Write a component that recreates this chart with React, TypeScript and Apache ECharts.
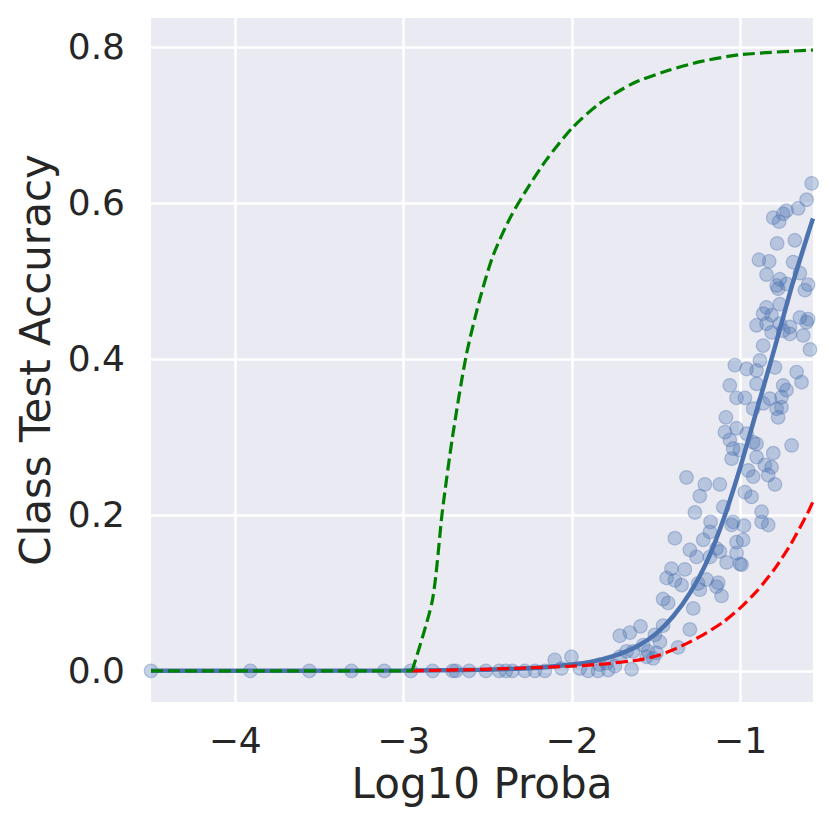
import React, { useEffect, useRef } from "react";
import * as echarts from "echarts";

const xTicks = [-4, -3, -2, -1];
const yTicks = [0, 0.2, 0.4, 0.6, 0.8];

const scatterPoints: [number, number][] = [
  [-4.5, 0], [-3.91, 0], [-3.56, 0], [-3.31, 0], [-3.115, 0], [-2.957, 0], [-2.828, 0],
  [-2.709, 0], [-2.69, 0], [-2.611, 0], [-2.512, 0], [-2.433, 0], [-2.393, 0], [-2.354, 0],
  [-2.281, 0], [-2.221, 0], [-2.162, 0], [-2.103, 0.014], [-2.063, 0.003], [-2.004, 0.018],
  [-1.954, 0.003], [-1.905, 0], [-1.846, 0], [-1.836, 0.008], [-1.796, 0.01], [-1.786, 0.001],
  [-1.746, 0.006], [-1.717, 0.018], [-1.647, 0.002], [-1.677, 0.025], [-1.638, 0.025],
  [-1.578, 0.033], [-1.558, 0.018], [-1.549, 0.025], [-1.519, 0.016], [-1.499, 0.023],
  [-1.479, 0.037], [-1.509, 0.046], [-1.371, 0.03], [-1.717, 0.045], [-1.657, 0.049],
  [-1.594, 0.057], [-1.46, 0.058], [-1.301, 0.053],
  [-1.281, 0.08], [-1.43, 0.087], [-1.46, 0.092], [-1.113, 0.096], [-1.143, 0.108],
  [-1.242, 0.104], [-1.35, 0.11], [-1.133, 0.113], [-1.202, 0.117], [-1.252, 0.112],
  [-1.39, 0.116], [-1.439, 0.119], [-1.331, 0.13], [-1.41, 0.131], [-0.994, 0.136],
  [-1.004, 0.137], [-1.083, 0.139], [-1.182, 0.146], [-1.261, 0.146], [-1.024, 0.151],
  [-1.123, 0.153], [-1.143, 0.157], [-1.301, 0.155], [-0.985, 0.168], [-1.024, 0.165],
  [-1.222, 0.168], [-1.39, 0.17], [-1.182, 0.178], [-0.98, 0.186], [-1.053, 0.187],
  [-1.044, 0.191], [-1.178, 0.191], [-0.836, 0.187], [-0.875, 0.191], [-0.875, 0.204],
  [-1.271, 0.203], [-1.103, 0.21],
  [-0.935, 0.223], [-0.974, 0.229], [-1.242, 0.224], [-0.796, 0.239], [-1.123, 0.239],
  [-1.212, 0.239], [-0.836, 0.251], [-0.925, 0.249], [-1.321, 0.248], [-0.955, 0.257],
  [-0.816, 0.261], [-0.856, 0.264], [-0.806, 0.279], [-0.905, 0.274], [-1.053, 0.272],
  [-0.697, 0.289], [-1.004, 0.283], [-1.044, 0.285], [-0.905, 0.291], [-0.925, 0.293],
  [-1.064, 0.296], [-0.964, 0.304], [-1.093, 0.306], [-1.024, 0.311], [-1.087, 0.325],
  [-0.777, 0.325], [-0.757, 0.338], [-0.786, 0.336], [-0.925, 0.336], [-0.866, 0.343],
  [-0.826, 0.349], [-0.757, 0.351], [-0.974, 0.35], [-1.024, 0.35], [-0.727, 0.36],
  [-0.747, 0.366], [-0.905, 0.368], [-1.064, 0.366], [-0.638, 0.37], [-0.667, 0.383],
  [-0.796, 0.389], [-0.885, 0.398], [-0.905, 0.385], [-0.964, 0.387], [-1.034, 0.392],
  [-0.608, 0.447], [-0.866, 0.417], [-0.588, 0.412], [-0.628, 0.43], [-0.707, 0.432],
  [-0.747, 0.436], [-0.816, 0.434],
  [-0.707, 0.441], [-0.767, 0.445], [-0.846, 0.445], [-0.905, 0.443], [-0.599, 0.451],
  [-0.648, 0.453], [-0.816, 0.456], [-0.866, 0.458], [-0.767, 0.47], [-0.846, 0.466],
  [-0.777, 0.49], [-0.618, 0.488], [-0.599, 0.495], [-0.727, 0.496], [-0.786, 0.494],
  [-0.767, 0.502], [-0.648, 0.51], [-0.846, 0.508], [-0.688, 0.524], [-0.83, 0.525],
  [-0.891, 0.527], [-0.678, 0.552], [-0.783, 0.548], [-0.771, 0.576], [-0.806, 0.581],
  [-0.747, 0.586], [-0.727, 0.59], [-0.658, 0.593], [-0.608, 0.604], [-0.578, 0.625],
];

const fitCurve: [number, number][] = [
  [-4.5, 0], [-3.0, 0.0005], [-2.5, 0.0015], [-2.2, 0.004], [-2.0, 0.008], [-1.9, 0.011],
  [-1.8, 0.016], [-1.7, 0.023], [-1.6, 0.033], [-1.5, 0.048], [-1.4, 0.07], [-1.3, 0.1],
  [-1.2, 0.14], [-1.1, 0.195], [-1.0, 0.262], [-0.9, 0.337], [-0.8, 0.412], [-0.7, 0.49],
  [-0.6, 0.56], [-0.57, 0.58],
];

const lowerCurve: [number, number][] = [
  [-2.95, 0], [-2.6, 0.0015], [-2.3, 0.0035], [-2.0, 0.006], [-1.8, 0.009], [-1.6, 0.014],
  [-1.5, 0.019], [-1.4, 0.027], [-1.3, 0.037], [-1.2, 0.049], [-1.1, 0.063], [-1.0, 0.081],
  [-0.9, 0.103], [-0.8, 0.13], [-0.7, 0.163], [-0.6, 0.203], [-0.57, 0.217],
];

const upperCurve: [number, number][] = [
  [-4.5, 0], [-2.95, 0], [-2.83, 0.09], [-2.77, 0.205], [-2.71, 0.3], [-2.63, 0.403],
  [-2.55, 0.475], [-2.47, 0.532], [-2.37, 0.58], [-2.27, 0.617], [-2.15, 0.656],
  [-2.0, 0.696], [-1.84, 0.727], [-1.64, 0.753], [-1.44, 0.769], [-1.24, 0.781],
  [-1.0, 0.79], [-0.57, 0.796],
];

const FONT = "DejaVu Sans";
const TEXT = "#262626";

export default function App() {
  const ref = useRef<HTMLDivElement>(null);
  useEffect(() => {
    const chart = echarts.init(ref.current as HTMLDivElement, null, { renderer: "svg" });
    const greenStyle = { color: "#008000", width: 3.2, type: [12, 5] };
    chart.setOption({
      animation: false,
      backgroundColor: "#ffffff",
      grid: {
        left: 151, right: 17, top: 18, bottom: 128,
        show: true, backgroundColor: "#eaeaf2", borderWidth: 0,
      },
      xAxis: {
        type: "value", min: -4.5, max: -0.57,
        axisLine: { show: false },
        axisTick: { show: false, customValues: xTicks },
        axisLabel: {
          customValues: xTicks,
          formatter: (v: number) => (v < 0 ? "\u2212" + Math.abs(v) : String(v)),
          color: TEXT, fontSize: 36, fontFamily: FONT, margin: 20,
        },
        splitLine: { show: true, lineStyle: { color: "#ffffff", width: 2.5 } },
        name: "Log10 Proba", nameLocation: "middle", nameGap: 58,
        nameTextStyle: { color: TEXT, fontSize: 42, fontFamily: FONT },
      },
      yAxis: {
        type: "value", min: -0.04, max: 0.837,
        axisLine: { show: false },
        axisTick: { show: false, customValues: yTicks },
        axisLabel: {
          customValues: yTicks,
          formatter: (v: number) => v.toFixed(1),
          color: TEXT, fontSize: 36, fontFamily: FONT, margin: 26,
        },
        splitLine: { show: true, lineStyle: { color: "#ffffff", width: 2.5 } },
        name: "Class Test Accuracy", nameLocation: "middle", nameGap: 88,
        nameTextStyle: { color: TEXT, fontSize: 42, fontFamily: FONT },
      },
      series: [
        {
          type: "scatter", data: scatterPoints, symbolSize: 13.5, silent: true,
          itemStyle: { color: "rgba(76,114,176,0.4)", borderColor: "rgba(76,114,176,0.45)", borderWidth: 1.2 },
        },
        {
          type: "line", data: fitCurve, showSymbol: false, silent: true, smooth: 0.2,
          lineStyle: { color: "#4c72b0", width: 4.5 },
        },
        {
          type: "line", data: lowerCurve, showSymbol: false, silent: true, smooth: 0.2,
          lineStyle: { color: "#ff0000", width: 3.2, type: [12, 5] },
        },
        {
          type: "line", data: upperCurve.slice(0, 2), showSymbol: false, silent: true,
          lineStyle: greenStyle,
        },
        {
          type: "line", data: upperCurve.slice(1), showSymbol: false, silent: true, smooth: 0.25,
          lineStyle: greenStyle,
        },
      ],
    });
    return () => chart.dispose();
  }, []);
  return <div ref={ref} style={{ position: "absolute", left: 0, top: 0, width: 830, height: 830 }} />;
}
